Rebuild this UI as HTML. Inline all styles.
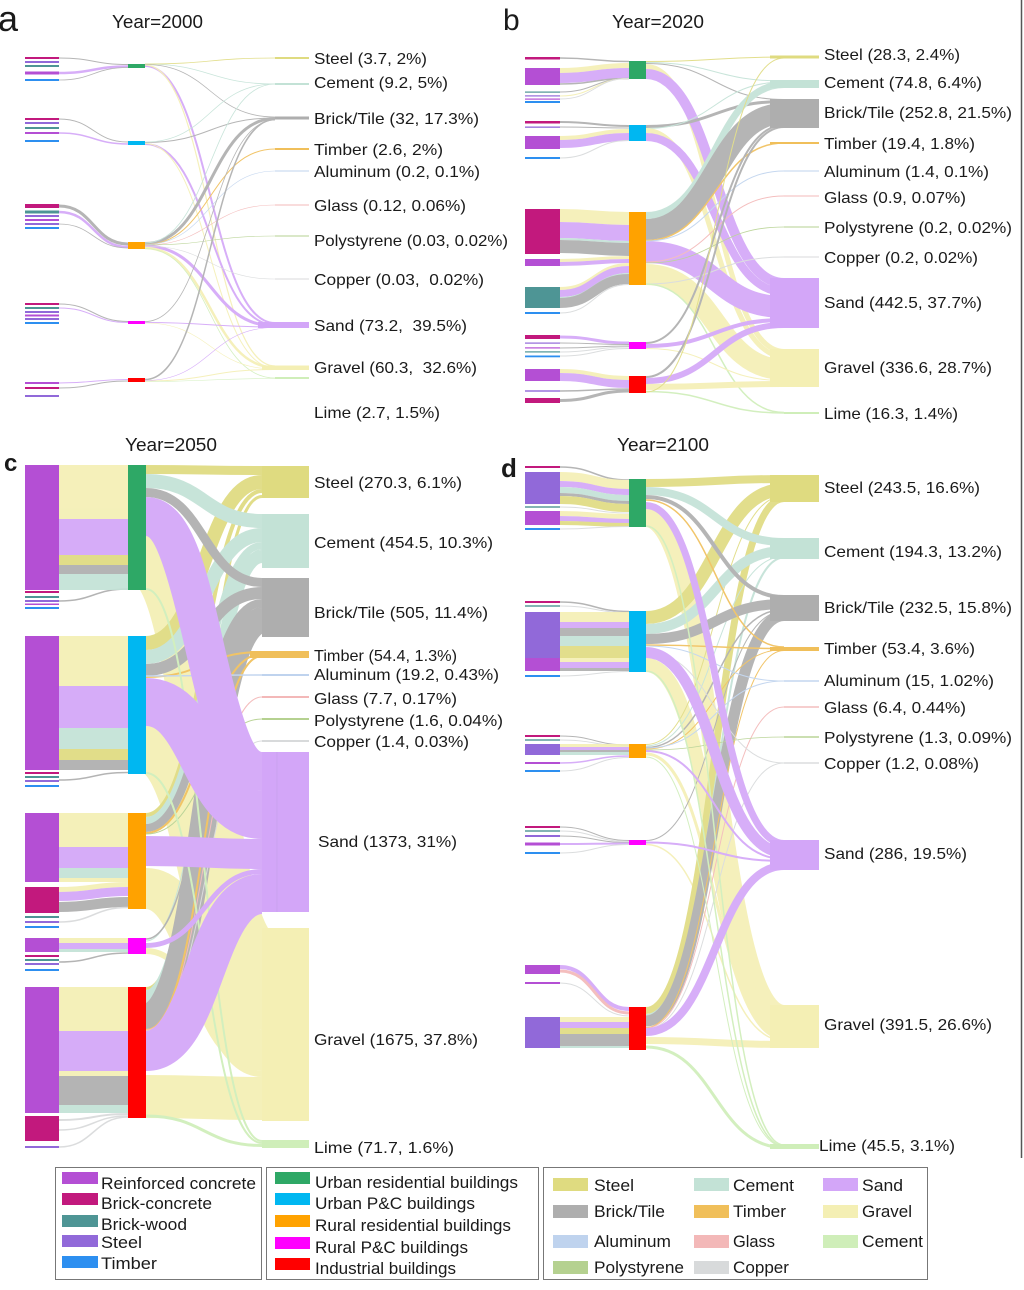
<!DOCTYPE html>
<html><head><meta charset="utf-8"><style>
html,body{margin:0;padding:0;background:#fff}
svg{display:block}
.fl path{fill:none}
.k{stroke:#dfdb80}.t{stroke:#c3e2d6}.g{stroke:#aeaeae}.o{stroke:#f0bf5a}.s{stroke:#d3a6f8}.y{stroke:#f4efb4}
.al{stroke:#bfd3ee}.gl{stroke:#f3b8b8}.po{stroke:#b5d190}.cu{stroke:#d8dadb}.li{stroke:#cfeeb9}
.Fk{fill:#dfdb80}.Ft{fill:#c3e2d6}.Fg{fill:#aeaeae}.Fo{fill:#f0bf5a}.Fs{fill:#d3a6f8}.Fy{fill:#f4efb4}
.Fal{fill:#bfd3ee}.Fgl{fill:#f3b8b8}.Fpo{fill:#b5d190}.Fcu{fill:#d8dadb}.Fli{fill:#cfeeb9}
.RC{fill:#b44fd4}.BC{fill:#c2197d}.BW{fill:#4e9595}.ST{fill:#9169d9}.TI{fill:#2d8ff0}
.UR{fill:#2ea866}.UP{fill:#00b7f1}.RR{fill:#ffa200}.RP{fill:#ff00ff}.IN{fill:#ff0000}
text{font-family:"Liberation Sans",Arial,sans-serif;fill:#1a1a1a}
</style></head><body>
<svg width="1024" height="1290" viewBox="0 0 1024 1290" xmlns="http://www.w3.org/2000/svg">
<rect width="1024" height="1290" fill="#fff"/>
<line x1="1021.5" y1="0" x2="1021.5" y2="1158" stroke="#555" stroke-width="1.5"/>

<!-- ================= PANEL A ================= -->
<g class="fl" opacity="0.9">
<path class="s" stroke-width="2" d="M145 66C210 66 210 323 275 323"/>
<path class="y" stroke-width="1.2" d="M145 65C210 65 210 366 275 366"/>
<path class="g" stroke-width="0.8" d="M145 64.5C210 64.5 210 117 275 117"/>
<path class="t" stroke-width="0.8" d="M145 64C210 64 210 84 275 84"/>
<path class="k" stroke-width="0.8" d="M145 64C210 64 210 58 275 58"/>
<path class="s" stroke-width="2" d="M145 144C210 144 210 325 275 325"/>
<path class="y" stroke-width="1" d="M145 143.5C210 143.5 210 368 275 368"/>
<path class="g" stroke-width="1" d="M145 142.5C210 142.5 210 118 275 118"/>
<path class="t" stroke-width="0.8" d="M145 142C210 142 210 84 275 84"/>
<path class="g" stroke-width="3" d="M145 243.5C210 243.5 210 118.5 275 118.5"/>
<path class="s" stroke-width="3" d="M145 246C210 246 210 326 275 326"/>
<path class="y" stroke-width="2.5" d="M145 248C210 248 210 367.5 275 367.5"/>
<path class="o" stroke-width="1" d="M145 244.5C210 244.5 210 149 275 149"/>
<path class="li" stroke-width="0.8" d="M145 248.5C210 248.5 210 378 275 378"/>
<path class="t" stroke-width="0.8" d="M145 243C210 243 210 84 275 84"/>
<path class="al" stroke-width="0.6" d="M145 244.5C210 244.5 210 171 275 171"/>
<path class="gl" stroke-width="0.6" d="M145 245C210 245 210 205 275 205"/>
<path class="po" stroke-width="0.6" d="M145 245C210 245 210 236 275 236"/>
<path class="cu" stroke-width="0.6" d="M145 246C210 246 210 279 275 279"/>
<path class="s" stroke-width="1" d="M145 322.5C210 322.5 210 327 275 327"/>
<path class="g" stroke-width="0.8" d="M145 321.5C210 321.5 210 120 275 120"/>
<path class="y" stroke-width="0.6" d="M145 323C210 323 210 369 275 369"/>
<path class="g" stroke-width="1.5" d="M145 379.5C210 379.5 210 119.5 275 119.5"/>
<path class="y" stroke-width="1" d="M145 381C210 381 210 369.5 275 369.5"/>
<path class="s" stroke-width="0.6" d="M145 380.5C210 380.5 210 327.5 275 327.5"/>
<path class="li" stroke-width="0.6" d="M145 381.5C210 381.5 210 378.5 275 378.5"/>
<!-- left to middle -->
<path class="g" stroke-width="1" d="M59 58C93.5 58 93.5 64.5 128 64.5"/>
<path class="s" stroke-width="2.5" d="M59 73C93.5 73 93.5 66.5 128 66.5"/>
<path class="g" stroke-width="0.8" d="M59 80C93.5 80 93.5 67.5 128 67.5"/>
<path class="g" stroke-width="1" d="M59 119C93.5 119 93.5 142 128 142"/>
<path class="s" stroke-width="1.5" d="M59 133C93.5 133 93.5 144 128 144"/>
<path class="g" stroke-width="3" d="M59 206C93.5 206 93.5 244 128 244"/>
<path class="s" stroke-width="2.5" d="M59 212C93.5 212 93.5 247 128 247"/>
<path class="g" stroke-width="0.8" d="M59 224C93.5 224 93.5 248 128 248"/>
<path class="g" stroke-width="1" d="M59 304C93.5 304 93.5 321.5 128 321.5"/>
<path class="s" stroke-width="1" d="M59 308C93.5 308 93.5 322.5 128 322.5"/>
<path class="s" stroke-width="1" d="M59 383C93.5 383 93.5 379.5 128 379.5"/>
<path class="g" stroke-width="1" d="M59 388C93.5 388 93.5 381 128 381"/>
</g>
<!-- right bars a -->
<rect x="275" y="57" width="34" height="2" class="Fk"/>
<rect x="275" y="83" width="34" height="2" class="Ft"/>
<rect x="275" y="116.5" width="34" height="3" class="Fg"/>
<rect x="275" y="148" width="34" height="2" class="Fo"/>
<rect x="275" y="170.5" width="34" height="1" class="Fal"/>
<rect x="275" y="204.5" width="34" height="1" class="Fgl"/>
<rect x="275" y="235.5" width="34" height="1" class="Fpo"/>
<rect x="275" y="278.5" width="34" height="1" class="Fcu"/>
<rect x="258" y="322" width="51" height="6" class="Fs"/>
<rect x="262" y="365.5" width="47" height="4.5" class="Fy"/>
<rect x="275" y="377" width="34" height="2" class="Fli"/>
<!-- left nodes a -->
<rect x="25" y="57" width="34" height="2" class="BC"/>
<rect x="25" y="61" width="34" height="2" class="ST"/>
<rect x="25" y="65" width="34" height="2" class="BW"/>
<rect x="25" y="71.5" width="34" height="3" class="RC"/>
<rect x="25" y="79" width="34" height="2" class="TI"/>
<rect x="25" y="118" width="34" height="2" class="BC"/>
<rect x="25" y="122" width="34" height="2" class="ST"/>
<rect x="25" y="127" width="34" height="2" class="BW"/>
<rect x="25" y="132" width="34" height="2" class="RC"/>
<rect x="25" y="140" width="34" height="2" class="TI"/>
<rect x="25" y="204" width="34" height="4" class="BC"/>
<rect x="25" y="210.5" width="34" height="3" class="BW"/>
<rect x="25" y="215" width="34" height="2" class="ST"/>
<rect x="25" y="219" width="34" height="2" class="RC"/>
<rect x="25" y="223" width="34" height="2" class="ST"/>
<rect x="25" y="227" width="34" height="2" class="TI"/>
<rect x="25" y="303" width="34" height="2" class="BC"/>
<rect x="25" y="307" width="34" height="2" class="BW"/>
<rect x="25" y="311" width="34" height="2" class="ST"/>
<rect x="25" y="314.5" width="34" height="2" class="RC"/>
<rect x="25" y="318" width="34" height="2" class="ST"/>
<rect x="25" y="322" width="34" height="2" class="TI"/>
<rect x="25" y="382" width="34" height="2" class="RC"/>
<rect x="25" y="387" width="34" height="2" class="BC"/>
<rect x="25" y="395" width="34" height="2" class="ST"/>
<!-- middle a -->
<rect x="128" y="64" width="17" height="4" class="UR"/>
<rect x="128" y="141" width="17" height="4" class="UP"/>
<rect x="128" y="242" width="17" height="7" class="RR"/>
<rect x="128" y="321" width="17" height="3" class="RP"/>
<rect x="128" y="378" width="17" height="4" class="IN"/>

<!-- ================= PANEL B ================= -->
<g class="fl" opacity="0.9">
<path class="k" stroke-width="1" d="M646 61.5C715 61.5 715 57 784 57"/>
<path class="t" stroke-width="1" d="M646 62.5C715 62.5 715 81 784 81"/>
<path class="g" stroke-width="1" d="M646 63.5C715 63.5 715 99.5 784 99.5"/>
<path class="y" stroke-width="5" d="M646 66.5C715 66.5 715 351.5 784 351.5"/>
<path class="s" stroke-width="10" d="M646 74C715 74 715 283 784 283"/>
<path class="g" stroke-width="3" d="M646 126.5C715 126.5 715 101.5 784 101.5"/>
<path class="t" stroke-width="1" d="M646 128.5C715 128.5 715 82 784 82"/>
<path class="y" stroke-width="5" d="M646 130.5C715 130.5 715 356.5 784 356.5"/>
<path class="s" stroke-width="8" d="M646 137C715 137 715 292 784 292"/>
<path class="t" stroke-width="7" d="M646 215.5C715 215.5 715 84.5 784 84.5"/>
<path class="g" stroke-width="21" d="M646 229.5C715 229.5 715 113.5 784 113.5"/>
<path class="o" stroke-width="1.5" d="M646 240.5C715 240.5 715 143 784 143"/>
<path class="s" stroke-width="22" d="M646 252C715 252 715 307 784 307"/>
<path class="y" stroke-width="21" d="M646 274.5C715 274.5 715 369.5 784 369.5"/>
<path class="al" stroke-width="1" d="M646 241C715 241 715 171 784 171"/>
<path class="gl" stroke-width="1" d="M646 262C715 262 715 196 784 196"/>
<path class="po" stroke-width="0.8" d="M646 263C715 263 715 227 784 227"/>
<path class="cu" stroke-width="1" d="M646 284C715 284 715 257 784 257"/>
<path class="li" stroke-width="1.5" d="M646 284C715 284 715 412.5 784 412.5"/>
<path class="g" stroke-width="2" d="M646 343C715 343 715 125 784 125"/>
<path class="s" stroke-width="4" d="M646 346C715 346 715 320 784 320"/>
<path class="y" stroke-width="1" d="M646 348.5C715 348.5 715 380.5 784 380.5"/>
<path class="g" stroke-width="2" d="M646 377C715 377 715 127 784 127"/>
<path class="s" stroke-width="6" d="M646 381C715 381 715 325 784 325"/>
<path class="y" stroke-width="6" d="M646 387C715 387 715 384 784 384"/>
<path class="li" stroke-width="1.5" d="M646 391.5C715 391.5 715 413 784 413"/>
<path class="k" stroke-width="1" d="M646 392C715 392 715 58 784 58"/>
<!-- left to middle b -->
<path class="g" stroke-width="1.5" d="M560 58C594.5 58 594.5 61.5 629 61.5"/>
<path class="y" stroke-width="5" d="M560 70.5C594.5 70.5 594.5 65.5 629 65.5"/>
<path class="s" stroke-width="10" d="M560 78C594.5 78 594.5 73 629 73"/>
<path class="g" stroke-width="1.5" d="M560 84C594.5 84 594.5 78.5 629 78.5"/>
<path class="g" stroke-width="1" d="M560 92C594.5 92 594.5 78.5 629 78.5"/>
<path class="y" stroke-width="1" d="M560 96C594.5 96 594.5 78.5 629 78.5"/>
<path class="cu" stroke-width="1" d="M560 99C594.5 99 594.5 78.5 629 78.5"/>
<path class="g" stroke-width="2" d="M560 122C594.5 122 594.5 126 629 126"/>
<path class="g" stroke-width="1" d="M560 127C594.5 127 594.5 128 629 128"/>
<path class="y" stroke-width="4" d="M560 138C594.5 138 594.5 131 629 131"/>
<path class="s" stroke-width="8" d="M560 144C594.5 144 594.5 137 629 137"/>
<path class="cu" stroke-width="1" d="M560 158C594.5 158 594.5 140.5 629 140.5"/>
<path class="y" stroke-width="13" d="M560 215.5C594.5 215.5 594.5 218.5 629 218.5"/>
<path class="s" stroke-width="16" d="M560 230C594.5 230 594.5 233 629 233"/>
<path class="t" stroke-width="2" d="M560 239C594.5 239 594.5 242 629 242"/>
<path class="g" stroke-width="13" d="M560 246.5C594.5 246.5 594.5 249.5 629 249.5"/>
<path class="y" stroke-width="3" d="M560 260.5C594.5 260.5 594.5 257.5 629 257.5"/>
<path class="s" stroke-width="4" d="M560 264C594.5 264 594.5 261 629 261"/>
<path class="y" stroke-width="3" d="M560 288.5C594.5 288.5 594.5 264.5 629 264.5"/>
<path class="s" stroke-width="7" d="M560 293.5C594.5 293.5 594.5 269.5 629 269.5"/>
<path class="t" stroke-width="2" d="M560 298C594.5 298 594.5 274 629 274"/>
<path class="g" stroke-width="10" d="M560 303C594.5 303 594.5 279 629 279"/>
<path class="cu" stroke-width="1" d="M560 313C594.5 313 594.5 284.5 629 284.5"/>
<path class="s" stroke-width="3" d="M560 337C594.5 337 594.5 343 629 343"/>
<path class="g" stroke-width="1" d="M560 343C594.5 343 594.5 344.5 629 344.5"/>
<path class="g" stroke-width="1" d="M560 348C594.5 348 594.5 346 629 346"/>
<path class="cu" stroke-width="1" d="M560 352C594.5 352 594.5 347 629 347"/>
<path class="cu" stroke-width="1" d="M560 356C594.5 356 594.5 348.5 629 348.5"/>
<path class="y" stroke-width="4" d="M560 371C594.5 371 594.5 378 629 378"/>
<path class="s" stroke-width="8" d="M560 377C594.5 377 594.5 384 629 384"/>
<path class="g" stroke-width="1.5" d="M560 391C594.5 391 594.5 389 629 389"/>
<path class="g" stroke-width="3" d="M560 400.5C594.5 400.5 594.5 391 629 391"/>
</g>
<!-- right bars b -->
<rect x="770" y="55.5" width="49" height="3" class="Fk"/>
<rect x="770" y="80" width="49" height="8" class="Ft"/>
<rect x="770" y="99" width="49" height="29" class="Fg"/>
<rect x="770" y="142" width="49" height="2" class="Fo"/>
<rect x="784" y="170.5" width="35" height="1" class="Fal"/>
<rect x="784" y="195.5" width="35" height="1" class="Fgl"/>
<rect x="784" y="226.5" width="35" height="1" class="Fpo"/>
<rect x="784" y="256.5" width="35" height="1" class="Fcu"/>
<rect x="770" y="278" width="49" height="50" class="Fs"/>
<rect x="770" y="349" width="49" height="38" class="Fy"/>
<rect x="784" y="412" width="35" height="2" class="Fli"/>
<!-- left nodes b -->
<rect x="525" y="57" width="35" height="2.5" class="BC"/>
<rect x="525" y="68" width="35" height="17" class="RC"/>
<rect x="525" y="91.5" width="35" height="1.2" class="BW"/>
<rect x="525" y="95.3" width="35" height="1.2" class="ST"/>
<rect x="525" y="98.5" width="35" height="1.2" class="RC"/>
<rect x="525" y="101" width="35" height="2" class="TI"/>
<rect x="525" y="121" width="35" height="2.5" class="BC"/>
<rect x="525" y="126.5" width="35" height="1.3" class="ST"/>
<rect x="525" y="136" width="35" height="13" class="RC"/>
<rect x="525" y="157" width="35" height="2" class="TI"/>
<rect x="525" y="209" width="35" height="45" class="BC"/>
<rect x="525" y="259" width="35" height="7" class="RC"/>
<rect x="525" y="287" width="35" height="21" class="BW"/>
<rect x="525" y="312" width="35" height="2" class="TI"/>
<rect x="525" y="335" width="35" height="4" class="BC"/>
<rect x="525" y="342.5" width="35" height="1.2" class="ST"/>
<rect x="525" y="347.3" width="35" height="1.2" class="RC"/>
<rect x="525" y="351.3" width="35" height="1.2" class="BW"/>
<rect x="525" y="355.5" width="35" height="1.8" class="TI"/>
<rect x="525" y="369" width="35" height="12" class="RC"/>
<rect x="525" y="390.3" width="35" height="1.4" class="ST"/>
<rect x="525" y="398" width="35" height="5" class="BC"/>
<!-- middle b -->
<rect x="629" y="61" width="17" height="18" class="UR"/>
<rect x="629" y="125" width="17" height="16" class="UP"/>
<rect x="629" y="212" width="17" height="73" class="RR"/>
<rect x="629" y="342" width="17" height="7" class="RP"/>
<rect x="629" y="376" width="17" height="17" class="IN"/>

<!-- ================= PANEL C ================= -->
<g class="fl" opacity="0.92">
<path class="y" stroke-width="54" d="M146 563C204 563 204 955 262 955"/>
<path class="y" stroke-width="48" d="M146 750C204 750 204 1006 262 1006"/>
<path class="y" stroke-width="41" d="M146 888.5C204 888.5 204 1050.5 262 1050.5"/>
<path class="y" stroke-width="6" d="M146 951C204 951 204 1074 262 1074"/>
<path class="y" stroke-width="43" d="M146 1096.5C204 1096.5 204 1098.5 262 1098.5"/>
<path class="k" stroke-width="9" d="M146 469.5C204 469.5 204 470.5 262 470.5"/>
<path class="k" stroke-width="14" d="M146 643C204 643 204 482 262 482"/>
<path class="k" stroke-width="4" d="M146 815C204 815 204 491 262 491"/>
<path class="k" stroke-width="3" d="M146 988.5C204 988.5 204 496.5 262 496.5"/>
<path class="t" stroke-width="14" d="M146 481C204 481 204 521 262 521"/>
<path class="t" stroke-width="14" d="M146 657C204 657 204 535 262 535"/>
<path class="t" stroke-width="7" d="M146 820.5C204 820.5 204 545.5 262 545.5"/>
<path class="t" stroke-width="1" d="M146 941C204 941 204 549.5 262 549.5"/>
<path class="t" stroke-width="13" d="M146 996.5C204 996.5 204 556.5 262 556.5"/>
<path class="g" stroke-width="9" d="M146 492.5C204 492.5 204 582.5 262 582.5"/>
<path class="g" stroke-width="12" d="M146 670C204 670 204 593 262 593"/>
<path class="g" stroke-width="8" d="M146 828C204 828 204 603 262 603"/>
<path class="g" stroke-width="1.5" d="M146 939C204 939 204 607.5 262 607.5"/>
<path class="g" stroke-width="26" d="M146 1016C204 1016 204 621 262 621"/>
<path class="o" stroke-width="2" d="M146 677C204 677 204 652 262 652"/>
<path class="o" stroke-width="2" d="M146 833C204 833 204 654 262 654"/>
<path class="o" stroke-width="2" d="M146 1030C204 1030 204 656 262 656"/>
<path class="al" stroke-width="1.5" d="M146 676C204 676 204 675 262 675"/>
<path class="gl" stroke-width="1" d="M146 1030C204 1030 204 697 262 697"/>
<path class="po" stroke-width="1" d="M146 834C204 834 204 719 262 719"/>
<path class="cu" stroke-width="1" d="M146 1031C204 1031 204 741 262 741"/>
<path class="li" stroke-width="2" d="M146 589C204 589 204 1141 262 1141"/>
<path class="li" stroke-width="2" d="M146 773C204 773 204 1143 262 1143"/>
<path class="li" stroke-width="3" d="M146 1116C204 1116 204 1145.5 262 1145.5"/>
<path class="s" stroke-width="39" d="M146 516.5C204 516.5 204 771.5 262 771.5"/>
<path class="s" stroke-width="48" d="M146 702C204 702 204 815 262 815"/>
<path class="s" stroke-width="30" d="M146 851C204 851 204 854 262 854"/>
<path class="s" stroke-width="5" d="M146 945.5C204 945.5 204 871.5 262 871.5"/>
<path class="s" stroke-width="40" d="M146 1051C204 1051 204 894 262 894"/>
<!-- left to middle c -->
<path class="g" stroke-width="1.5" d="M59 601C93.5 601 93.5 589 128 589"/>
<path class="g" stroke-width="1.5" d="M59 780C93.5 780 93.5 772.5 128 772.5"/>
<path class="y" stroke-width="5" d="M59 889.5C93.5 889.5 93.5 884.5 128 884.5"/>
<path class="s" stroke-width="9" d="M59 896.5C93.5 896.5 93.5 891.5 128 891.5"/>
<path class="g" stroke-width="10" d="M59 907C93.5 907 93.5 902 128 902"/>
<path class="cu" stroke-width="1.5" d="M59 922C93.5 922 93.5 907.5 128 907.5"/>
<path class="g" stroke-width="1.5" d="M59 962C93.5 962 93.5 953 128 953"/>
<path class="cu" stroke-width="2" d="M59 1120C93.5 1120 93.5 1114 128 1114"/>
<path class="cu" stroke-width="1.5" d="M59 1130C93.5 1130 93.5 1116 128 1116"/>
<path class="cu" stroke-width="1.5" d="M59 1147C93.5 1147 93.5 1117 128 1117"/>
</g>
<g opacity="0.92">
<rect x="59" y="465" width="69" height="54" class="Fy"/>
<rect x="59" y="519" width="69" height="36" class="Fs"/>
<rect x="59" y="555" width="69" height="10" class="Fk"/>
<rect x="59" y="565" width="69" height="9" class="Fg"/>
<rect x="59" y="574" width="69" height="16" class="Ft"/>
<rect x="59" y="636" width="69" height="50" class="Fy"/>
<rect x="59" y="686" width="69" height="42" class="Fs"/>
<rect x="59" y="728" width="69" height="21" class="Ft"/>
<rect x="59" y="749" width="69" height="11" class="Fk"/>
<rect x="59" y="760" width="69" height="10" class="Fg"/>
<rect x="59" y="813" width="69" height="34" class="Fy"/>
<rect x="59" y="847" width="69" height="21" class="Fs"/>
<rect x="59" y="868" width="69" height="10" class="Ft"/>
<rect x="59" y="878" width="69" height="4" class="Fy"/>
<rect x="59" y="938" width="69" height="5" class="Fy"/>
<rect x="59" y="943" width="69" height="6" class="Fs"/>
<rect x="59" y="949" width="69" height="3" class="Ft"/>
<rect x="59" y="987" width="69" height="44" class="Fy"/>
<rect x="59" y="1031" width="69" height="40" class="Fs"/>
<rect x="59" y="1071" width="69" height="5" class="Fy"/>
<rect x="59" y="1076" width="69" height="29" class="Fg"/>
<rect x="59" y="1105" width="69" height="8" class="Ft"/>
</g>
<!-- right bars c -->
<rect x="262" y="466" width="47" height="32" class="Fk"/>
<rect x="262" y="514" width="47" height="54" class="Ft"/>
<rect x="262" y="578" width="47" height="59" class="Fg"/>
<rect x="250" y="651" width="59" height="7" class="Fo"/>
<rect x="262" y="674" width="47" height="2" class="Fal"/>
<rect x="262" y="696" width="47" height="2" class="Fgl"/>
<rect x="262" y="718" width="47" height="2" class="Fpo"/>
<rect x="262" y="740" width="47" height="2" class="Fcu"/>
<rect x="262" y="752" width="47" height="160" class="Fs"/>
<rect x="262" y="928" width="47" height="193" class="Fy"/>
<rect x="262" y="1140" width="47" height="8" class="Fli"/>
<line x1="277" y1="752" x2="277" y2="912" stroke="#c9a0ec" stroke-width="0.8"/>
<!-- left nodes c -->
<rect x="25" y="465" width="34" height="125" class="RC"/>
<rect x="25" y="591" width="34" height="2" class="BC"/>
<rect x="25" y="596" width="34" height="2" class="BW"/>
<rect x="25" y="600" width="34" height="2" class="ST"/>
<rect x="25" y="603.5" width="34" height="1.5" class="RC"/>
<rect x="25" y="607" width="34" height="2" class="TI"/>
<rect x="25" y="636" width="34" height="134" class="RC"/>
<rect x="25" y="772" width="34" height="2" class="BC"/>
<rect x="25" y="776" width="34" height="2" class="BW"/>
<rect x="25" y="780" width="34" height="2" class="ST"/>
<rect x="25" y="785" width="34" height="2" class="TI"/>
<rect x="25" y="813" width="34" height="69" class="RC"/>
<rect x="25" y="887" width="34" height="26" class="BC"/>
<rect x="25" y="916" width="34" height="2" class="BW"/>
<rect x="25" y="921" width="34" height="2" class="ST"/>
<rect x="25" y="926" width="34" height="2" class="TI"/>
<rect x="25" y="938" width="34" height="14" class="RC"/>
<rect x="25" y="955" width="34" height="2" class="BC"/>
<rect x="25" y="959" width="34" height="2" class="BW"/>
<rect x="25" y="963" width="34" height="2" class="ST"/>
<rect x="25" y="969" width="34" height="2" class="TI"/>
<rect x="25" y="987" width="34" height="126" class="RC"/>
<rect x="25" y="1116" width="34" height="25" class="BC"/>
<rect x="25" y="1146" width="34" height="2" class="ST"/>
<!-- middle c -->
<rect x="128" y="465" width="18" height="125" class="UR"/>
<rect x="128" y="636" width="18" height="138" class="UP"/>
<rect x="128" y="813" width="18" height="96" class="RR"/>
<rect x="128" y="938" width="18" height="16" class="RP"/>
<rect x="128" y="987" width="18" height="131" class="IN"/>

<!-- ================= PANEL D ================= -->
<g class="fl" opacity="0.9">
<path class="y" stroke-width="18" d="M646 518C715 518 715 1014 784 1014"/>
<path class="y" stroke-width="14" d="M646 665C715 665 715 1030 784 1030"/>
<path class="y" stroke-width="3" d="M646 754C715 754 715 1038.5 784 1038.5"/>
<path class="y" stroke-width="1.5" d="M646 844.5C715 844.5 715 1040.5 784 1040.5"/>
<path class="y" stroke-width="7" d="M646 1040.5C715 1040.5 715 1044.5 784 1044.5"/>
<path class="k" stroke-width="8" d="M646 483C715 483 715 479 784 479"/>
<path class="k" stroke-width="13" d="M646 617.5C715 617.5 715 489.5 784 489.5"/>
<path class="k" stroke-width="1" d="M646 744.5C715 744.5 715 496 784 496"/>
<path class="k" stroke-width="7" d="M646 1010.5C715 1010.5 715 498.5 784 498.5"/>
<path class="t" stroke-width="8" d="M646 491C715 491 715 542 784 542"/>
<path class="t" stroke-width="10" d="M646 629C715 629 715 551 784 551"/>
<path class="t" stroke-width="1" d="M646 746C715 746 715 556.5 784 556.5"/>
<path class="t" stroke-width="2" d="M646 1015C715 1015 715 557.5 784 557.5"/>
<path class="g" stroke-width="4" d="M646 497C715 497 715 597 784 597"/>
<path class="g" stroke-width="10" d="M646 639C715 639 715 604 784 604"/>
<path class="g" stroke-width="1.5" d="M646 747.5C715 747.5 715 609.5 784 609.5"/>
<path class="g" stroke-width="1" d="M646 840.5C715 840.5 715 611 784 611"/>
<path class="g" stroke-width="11" d="M646 1021C715 1021 715 615.5 784 615.5"/>
<path class="o" stroke-width="1.5" d="M646 500C715 500 715 647 784 647"/>
<path class="o" stroke-width="1.5" d="M646 645C715 645 715 648.5 784 648.5"/>
<path class="o" stroke-width="1" d="M646 749C715 749 715 649.5 784 649.5"/>
<path class="o" stroke-width="1" d="M646 1027.5C715 1027.5 715 650.5 784 650.5"/>
<path class="al" stroke-width="1" d="M646 748C715 748 715 681 784 681"/>
<path class="al" stroke-width="1" d="M646 646C715 646 715 681 784 681"/>
<path class="gl" stroke-width="1" d="M646 1028C715 1028 715 707 784 707"/>
<path class="po" stroke-width="0.8" d="M646 750C715 750 715 737 784 737"/>
<path class="cu" stroke-width="1" d="M646 1029C715 1029 715 763 784 763"/>
<path class="cu" stroke-width="1" d="M646 652C715 652 715 763 784 763"/>
<path class="li" stroke-width="1.5" d="M646 526C715 526 715 1145 784 1145"/>
<path class="li" stroke-width="1.5" d="M646 671C715 671 715 1146 784 1146"/>
<path class="li" stroke-width="1" d="M646 757C715 757 715 1146.5 784 1146.5"/>
<path class="li" stroke-width="3" d="M646 1047C715 1047 715 1147.5 784 1147.5"/>
<path class="s" stroke-width="7" d="M646 505.5C715 505.5 715 843.5 784 843.5"/>
<path class="s" stroke-width="11" d="M646 652.5C715 652.5 715 852.5 784 852.5"/>
<path class="s" stroke-width="2" d="M646 751C715 751 715 859 784 859"/>
<path class="s" stroke-width="2" d="M646 842.5C715 842.5 715 861 784 861"/>
<path class="s" stroke-width="8" d="M646 1032C715 1032 715 866 784 866"/>
<!-- left to middle d -->
<path class="g" stroke-width="1.5" d="M560 467C594.5 467 594.5 480 629 480"/>
<path class="y" stroke-width="9" d="M560 476.5C594.5 476.5 594.5 484.5 629 484.5"/>
<path class="s" stroke-width="6" d="M560 484C594.5 484 594.5 492 629 492"/>
<path class="t" stroke-width="6" d="M560 490C594.5 490 594.5 498 629 498"/>
<path class="g" stroke-width="3" d="M560 494.5C594.5 494.5 594.5 502.5 629 502.5"/>
<path class="k" stroke-width="8" d="M560 500C594.5 500 594.5 508 629 508"/>
<path class="cu" stroke-width="1" d="M560 507C594.5 507 594.5 513 629 513"/>
<path class="y" stroke-width="5" d="M560 513.5C594.5 513.5 594.5 516.5 629 516.5"/>
<path class="s" stroke-width="5" d="M560 518.5C594.5 518.5 594.5 521.5 629 521.5"/>
<path class="k" stroke-width="4" d="M560 523C594.5 523 594.5 525 629 525"/>
<path class="cu" stroke-width="1" d="M560 529C594.5 529 594.5 526.5 629 526.5"/>
<path class="g" stroke-width="1.5" d="M560 602C594.5 602 594.5 611.5 629 611.5"/>
<path class="cu" stroke-width="1" d="M560 606C594.5 606 594.5 612.5 629 612.5"/>
<path class="cu" stroke-width="1" d="M560 676C594.5 676 594.5 671.5 629 671.5"/>
<path class="g" stroke-width="1" d="M560 736C594.5 736 594.5 745 629 745"/>
<path class="cu" stroke-width="1" d="M560 740C594.5 740 594.5 746 629 746"/>
<path class="s" stroke-width="1.5" d="M560 763C594.5 763 594.5 756 629 756"/>
<path class="cu" stroke-width="1" d="M560 771C594.5 771 594.5 757.5 629 757.5"/>
<path class="g" stroke-width="1" d="M560 827C594.5 827 594.5 840.5 629 840.5"/>
<path class="cu" stroke-width="1" d="M560 831C594.5 831 594.5 841.5 629 841.5"/>
<path class="g" stroke-width="1" d="M560 836C594.5 836 594.5 842.5 629 842.5"/>
<path class="s" stroke-width="2" d="M560 844C594.5 844 594.5 843.5 629 843.5"/>
<path class="cu" stroke-width="1" d="M560 853C594.5 853 594.5 844.5 629 844.5"/>
<path class="s" stroke-width="4" d="M560 967C594.5 967 594.5 1009 629 1009"/>
<path class="gl" stroke-width="3" d="M560 971C594.5 971 594.5 1013 629 1013"/>
<path class="cu" stroke-width="1" d="M560 983C594.5 983 594.5 1016 629 1016"/>
</g>
<g opacity="0.9">
<rect x="560" y="612" width="69" height="10" class="Fy"/>
<rect x="560" y="622" width="69" height="6" class="Fs"/>
<rect x="560" y="628" width="69" height="8" class="Fg"/>
<rect x="560" y="636" width="69" height="10" class="Ft"/>
<rect x="560" y="646" width="69" height="12" class="Fk"/>
<rect x="560" y="658" width="69" height="4" class="Fy"/>
<rect x="560" y="662" width="69" height="6" class="Fs"/>
<rect x="560" y="668" width="69" height="3" class="Fg"/>
<rect x="560" y="744" width="69" height="3" class="Fy"/>
<rect x="560" y="747" width="69" height="3" class="Fs"/>
<rect x="560" y="750" width="69" height="2" class="Fg"/>
<rect x="560" y="752" width="69" height="3" class="Ft"/>
<rect x="560" y="1017" width="69" height="5" class="Fy"/>
<rect x="560" y="1022" width="69" height="6" class="Fs"/>
<rect x="560" y="1028" width="69" height="6" class="Fk"/>
<rect x="560" y="1034" width="69" height="12" class="Fg"/>
<rect x="560" y="1046" width="69" height="2" class="Ft"/>
</g>
<!-- right bars d -->
<rect x="770" y="475" width="49" height="27" class="Fk"/>
<rect x="770" y="538" width="49" height="21" class="Ft"/>
<rect x="770" y="595" width="49" height="26" class="Fg"/>
<rect x="770" y="647" width="49" height="4" class="Fo"/>
<rect x="784" y="680.3" width="35" height="1.4" class="Fal"/>
<rect x="784" y="706.3" width="35" height="1.4" class="Fgl"/>
<rect x="784" y="736.3" width="35" height="1.4" class="Fpo"/>
<rect x="784" y="762.3" width="35" height="1.4" class="Fcu"/>
<rect x="770" y="840" width="49" height="30" class="Fs"/>
<rect x="770" y="1005" width="49" height="43" class="Fy"/>
<rect x="770" y="1144" width="49" height="5" class="Fli"/>
<!-- left nodes d -->
<rect x="525" y="466" width="35" height="2" class="BC"/>
<rect x="525" y="472" width="35" height="32" class="ST"/>
<rect x="525" y="506.3" width="35" height="1.4" class="BW"/>
<rect x="525" y="511" width="35" height="14" class="RC"/>
<rect x="525" y="528" width="35" height="2" class="TI"/>
<rect x="525" y="601" width="35" height="2" class="BC"/>
<rect x="525" y="605.3" width="35" height="1.4" class="BW"/>
<rect x="525" y="612" width="35" height="46" class="ST"/>
<rect x="525" y="658" width="35" height="13" class="RC"/>
<rect x="525" y="675" width="35" height="2" class="TI"/>
<rect x="525" y="735" width="35" height="2" class="BC"/>
<rect x="525" y="739.3" width="35" height="1.4" class="BW"/>
<rect x="525" y="744" width="35" height="11" class="ST"/>
<rect x="525" y="762" width="35" height="2" class="RC"/>
<rect x="525" y="770" width="35" height="2" class="TI"/>
<rect x="525" y="826" width="35" height="2" class="BC"/>
<rect x="525" y="830.3" width="35" height="1.4" class="BW"/>
<rect x="525" y="835" width="35" height="2" class="ST"/>
<rect x="525" y="842.5" width="35" height="3" class="RC"/>
<rect x="525" y="852" width="35" height="2" class="TI"/>
<rect x="525" y="965" width="35" height="9" class="RC"/>
<rect x="525" y="982" width="35" height="2" class="RC"/>
<rect x="525" y="1017" width="35" height="31" class="ST"/>
<!-- middle d -->
<rect x="629" y="479" width="17" height="48" class="UR"/>
<rect x="629" y="611" width="17" height="61" class="UP"/>
<rect x="629" y="744" width="17" height="14" class="RR"/>
<rect x="629" y="840" width="17" height="5" class="RP"/>
<rect x="629" y="1007" width="17" height="43" class="IN"/>

<!-- ================= TITLES ================= -->
<text x="-2" y="31" font-size="36">a</text>
<text x="503" y="30" font-size="30">b</text>
<text x="4" y="471" font-size="24" font-weight="bold">c</text>
<text x="501" y="477" font-size="26" font-weight="bold">d</text>
<text x="112" y="28" font-size="18" textLength="91" lengthAdjust="spacingAndGlyphs">Year=2000</text>
<text x="612" y="28" font-size="18" textLength="92" lengthAdjust="spacingAndGlyphs">Year=2020</text>
<text x="125" y="451" font-size="18" textLength="92" lengthAdjust="spacingAndGlyphs">Year=2050</text>
<text x="617" y="451" font-size="18" textLength="92" lengthAdjust="spacingAndGlyphs">Year=2100</text>

<!-- labels a -->
<g font-size="16">
<text x="314" y="64" textLength="113" lengthAdjust="spacingAndGlyphs">Steel (3.7, 2%)</text>
<text x="314" y="88" textLength="134" lengthAdjust="spacingAndGlyphs">Cement (9.2, 5%)</text>
<text x="314" y="124" textLength="165" lengthAdjust="spacingAndGlyphs">Brick/Tile (32, 17.3%)</text>
<text x="314" y="155" textLength="129" lengthAdjust="spacingAndGlyphs">Timber (2.6, 2%)</text>
<text x="314" y="177" textLength="166" lengthAdjust="spacingAndGlyphs">Aluminum (0.2, 0.1%)</text>
<text x="314" y="211" textLength="152" lengthAdjust="spacingAndGlyphs">Glass (0.12, 0.06%)</text>
<text x="314" y="246" textLength="194" lengthAdjust="spacingAndGlyphs">Polystyrene (0.03, 0.02%)</text>
<text x="314" y="285" textLength="170" lengthAdjust="spacingAndGlyphs">Copper (0.03,&#160; 0.02%)</text>
<text x="314" y="331" textLength="153" lengthAdjust="spacingAndGlyphs">Sand (73.2,&#160; 39.5%)</text>
<text x="314" y="373" textLength="163" lengthAdjust="spacingAndGlyphs">Gravel (60.3,&#160; 32.6%)</text>
<text x="314" y="418" textLength="126" lengthAdjust="spacingAndGlyphs">Lime (2.7, 1.5%)</text>
</g>
<!-- labels b -->
<g font-size="16">
<text x="824" y="60" textLength="136" lengthAdjust="spacingAndGlyphs">Steel (28.3, 2.4%)</text>
<text x="824" y="88" textLength="158" lengthAdjust="spacingAndGlyphs">Cement (74.8, 6.4%)</text>
<text x="824" y="118" textLength="188" lengthAdjust="spacingAndGlyphs">Brick/Tile (252.8, 21.5%)</text>
<text x="824" y="149" textLength="151" lengthAdjust="spacingAndGlyphs">Timber (19.4, 1.8%)</text>
<text x="824" y="177" textLength="165" lengthAdjust="spacingAndGlyphs">Aluminum (1.4, 0.1%)</text>
<text x="824" y="203" textLength="142" lengthAdjust="spacingAndGlyphs">Glass (0.9, 0.07%)</text>
<text x="824" y="233" textLength="188" lengthAdjust="spacingAndGlyphs">Polystyrene (0.2, 0.02%)</text>
<text x="824" y="263" textLength="154" lengthAdjust="spacingAndGlyphs">Copper (0.2, 0.02%)</text>
<text x="824" y="308" textLength="158" lengthAdjust="spacingAndGlyphs">Sand (442.5, 37.7%)</text>
<text x="824" y="373" textLength="168" lengthAdjust="spacingAndGlyphs">Gravel (336.6, 28.7%)</text>
<text x="824" y="419" textLength="134" lengthAdjust="spacingAndGlyphs">Lime (16.3, 1.4%)</text>
</g>
<!-- labels c -->
<g font-size="16">
<text x="314" y="488" textLength="148" lengthAdjust="spacingAndGlyphs">Steel (270.3, 6.1%)</text>
<text x="314" y="548" textLength="179" lengthAdjust="spacingAndGlyphs">Cement (454.5, 10.3%)</text>
<text x="314" y="618" textLength="174" lengthAdjust="spacingAndGlyphs">Brick/Tile (505, 11.4%)</text>
<text x="314" y="661" textLength="143" lengthAdjust="spacingAndGlyphs">Timber (54.4, 1.3%)</text>
<text x="314" y="680" textLength="185" lengthAdjust="spacingAndGlyphs">Aluminum (19.2, 0.43%)</text>
<text x="314" y="704" textLength="143" lengthAdjust="spacingAndGlyphs">Glass (7.7, 0.17%)</text>
<text x="314" y="726" textLength="189" lengthAdjust="spacingAndGlyphs">Polystyrene (1.6, 0.04%)</text>
<text x="314" y="747" textLength="155" lengthAdjust="spacingAndGlyphs">Copper (1.4, 0.03%)</text>
<text x="318" y="847" textLength="139" lengthAdjust="spacingAndGlyphs">Sand (1373, 31%)</text>
<text x="314" y="1045" textLength="164" lengthAdjust="spacingAndGlyphs">Gravel (1675, 37.8%)</text>
<text x="314" y="1153" textLength="140" lengthAdjust="spacingAndGlyphs">Lime (71.7, 1.6%)</text>
</g>
<!-- labels d -->
<g font-size="16">
<text x="824" y="493" textLength="156" lengthAdjust="spacingAndGlyphs">Steel (243.5, 16.6%)</text>
<text x="824" y="557" textLength="178" lengthAdjust="spacingAndGlyphs">Cement (194.3, 13.2%)</text>
<text x="824" y="613" textLength="188" lengthAdjust="spacingAndGlyphs">Brick/Tile (232.5, 15.8%)</text>
<text x="824" y="654" textLength="151" lengthAdjust="spacingAndGlyphs">Timber (53.4, 3.6%)</text>
<text x="824" y="686" textLength="170" lengthAdjust="spacingAndGlyphs">Aluminum (15, 1.02%)</text>
<text x="824" y="713" textLength="142" lengthAdjust="spacingAndGlyphs">Glass (6.4, 0.44%)</text>
<text x="824" y="743" textLength="188" lengthAdjust="spacingAndGlyphs">Polystyrene (1.3, 0.09%)</text>
<text x="824" y="769" textLength="155" lengthAdjust="spacingAndGlyphs">Copper (1.2, 0.08%)</text>
<text x="824" y="859" textLength="143" lengthAdjust="spacingAndGlyphs">Sand (286, 19.5%)</text>
<text x="824" y="1030" textLength="168" lengthAdjust="spacingAndGlyphs">Gravel (391.5, 26.6%)</text>
<text x="819" y="1151" textLength="136" lengthAdjust="spacingAndGlyphs">Lime (45.5, 3.1%)</text>
</g>

<!-- ================= LEGEND ================= -->
<g fill="none" stroke="#777" stroke-width="1">
<rect x="55.5" y="1167.5" width="206" height="112"/>
<rect x="266.5" y="1167.5" width="272" height="112"/>
<rect x="543.5" y="1167.5" width="384" height="112"/>
</g>
<rect x="62" y="1172" width="36" height="12" class="RC"/>
<rect x="62" y="1193" width="36" height="12" class="BC"/>
<rect x="62" y="1215" width="36" height="12" class="BW"/>
<rect x="62" y="1235" width="36" height="12" class="ST"/>
<rect x="62" y="1256" width="36" height="12" class="TI"/>
<g font-size="17">
<text x="101" y="1189" textLength="155" lengthAdjust="spacingAndGlyphs">Reinforced concrete</text>
<text x="101" y="1209" textLength="111" lengthAdjust="spacingAndGlyphs">Brick-concrete</text>
<text x="101" y="1230" textLength="86" lengthAdjust="spacingAndGlyphs">Brick-wood</text>
<text x="101" y="1248" textLength="41" lengthAdjust="spacingAndGlyphs">Steel</text>
<text x="101" y="1269" textLength="56" lengthAdjust="spacingAndGlyphs">Timber</text>
</g>
<rect x="275" y="1172" width="35" height="12" class="UR"/>
<rect x="275" y="1193" width="35" height="12" class="UP"/>
<rect x="275" y="1215" width="35" height="12" class="RR"/>
<rect x="275" y="1237" width="35" height="12" class="RP"/>
<rect x="275" y="1258" width="35" height="12" class="IN"/>
<g font-size="17">
<text x="315" y="1188" textLength="203" lengthAdjust="spacingAndGlyphs">Urban residential buildings</text>
<text x="315" y="1209" textLength="160" lengthAdjust="spacingAndGlyphs">Urban P&amp;C buildings</text>
<text x="315" y="1231" textLength="196" lengthAdjust="spacingAndGlyphs">Rural residential buildings</text>
<text x="315" y="1253" textLength="153" lengthAdjust="spacingAndGlyphs">Rural P&amp;C buildings</text>
<text x="315" y="1274" textLength="141" lengthAdjust="spacingAndGlyphs">Industrial buildings</text>
</g>
<rect x="553" y="1178" width="35" height="13" class="Fk"/>
<rect x="553" y="1205" width="35" height="13" class="Fg"/>
<rect x="553" y="1235" width="35" height="13" class="Fal"/>
<rect x="553" y="1261" width="35" height="13" class="Fpo"/>
<rect x="694" y="1178" width="35" height="13" class="Ft"/>
<rect x="694" y="1205" width="35" height="13" class="Fo"/>
<rect x="694" y="1235" width="35" height="13" class="Fgl"/>
<rect x="694" y="1261" width="35" height="13" class="Fcu"/>
<rect x="823" y="1178" width="35" height="13" class="Fs"/>
<rect x="823" y="1205" width="35" height="13" class="Fy"/>
<rect x="823" y="1235" width="35" height="13" class="Fli"/>
<g font-size="17">
<text x="594" y="1191" textLength="40" lengthAdjust="spacingAndGlyphs">Steel</text>
<text x="594" y="1217" textLength="71" lengthAdjust="spacingAndGlyphs">Brick/Tile</text>
<text x="594" y="1247" textLength="77" lengthAdjust="spacingAndGlyphs">Aluminum</text>
<text x="594" y="1273" textLength="90" lengthAdjust="spacingAndGlyphs">Polystyrene</text>
<text x="733" y="1191" textLength="61" lengthAdjust="spacingAndGlyphs">Cement</text>
<text x="733" y="1217" textLength="53" lengthAdjust="spacingAndGlyphs">Timber</text>
<text x="733" y="1247" textLength="42" lengthAdjust="spacingAndGlyphs">Glass</text>
<text x="733" y="1273" textLength="56" lengthAdjust="spacingAndGlyphs">Copper</text>
<text x="862" y="1191" textLength="41" lengthAdjust="spacingAndGlyphs">Sand</text>
<text x="862" y="1217" textLength="50" lengthAdjust="spacingAndGlyphs">Gravel</text>
<text x="862" y="1247" textLength="61" lengthAdjust="spacingAndGlyphs">Cement</text>
</g>
</svg>
</body></html>
